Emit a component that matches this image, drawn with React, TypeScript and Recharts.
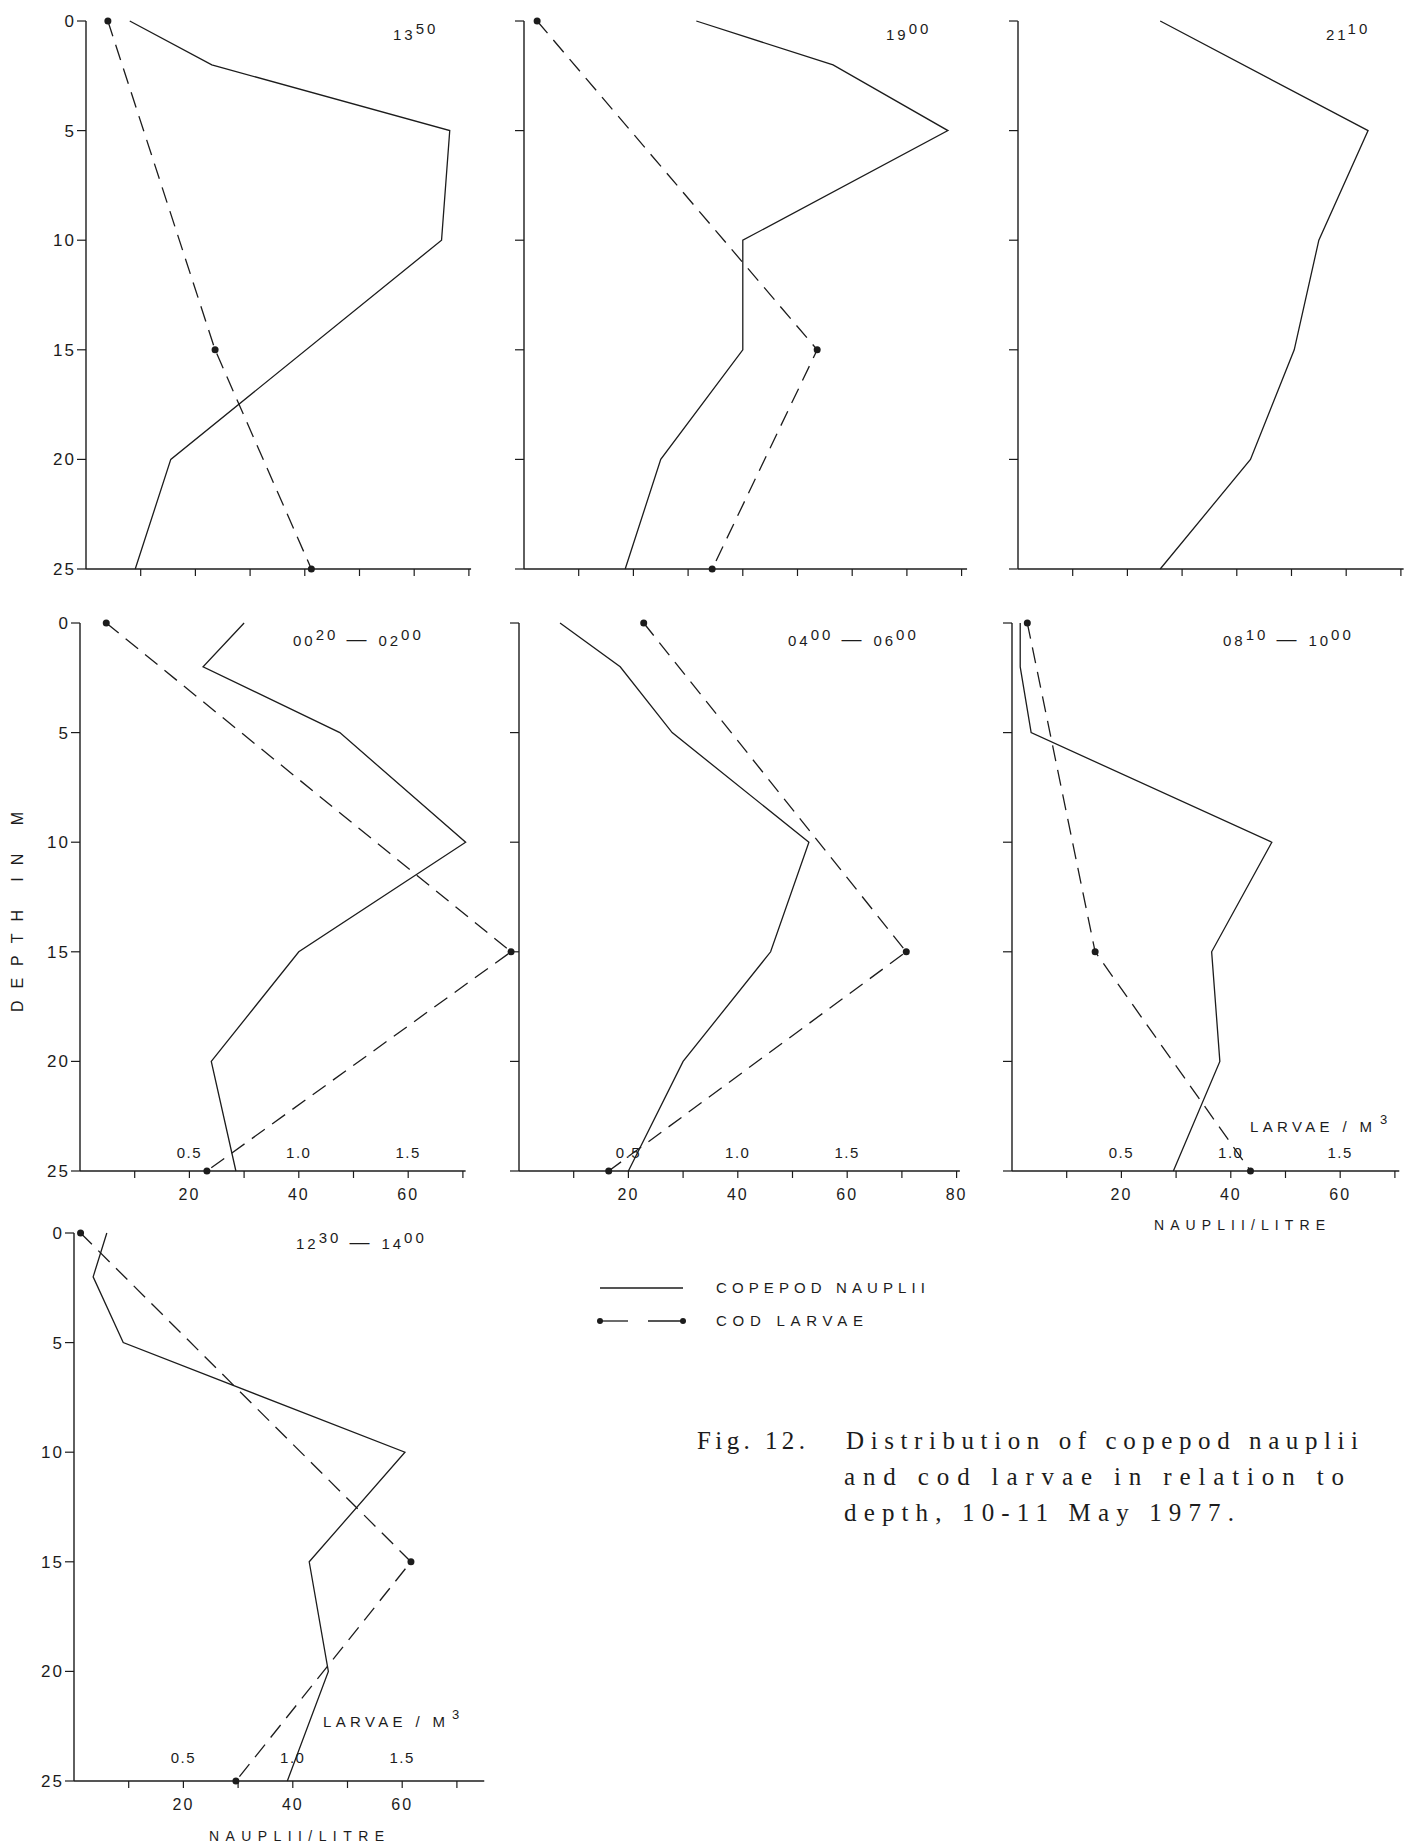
import React from 'react';
import { LineChart, Line, XAxis, YAxis, ReferenceLine } from 'recharts';

// sampling depths (m)
const depths = [0, 2, 5, 10, 15, 20, 25];

// copepod nauplii per litre, one list per haul
const nauplii1350 = [8, 23, 66.5, 65, null, 15.5, 9];
const nauplii1900 = [31.5, 56.5, 77.5, 40, 40, 25, 18.5];
const nauplii2110 = [26, null, 64, 55, 50.5, 42.5, 26];
const nauplii0020 = [30, 22.5, 47.5, 70.5, 40, 24, 28.5];
const nauplii0400 = [7.5, 18.5, 28, 53, 46, 30, 20];
const nauplii0810 = [1.5, 1.5, 3.5, 47.5, 36.5, 38, 29.5];
const nauplii1230 = [6, 3.5, 9, 60.5, 43, 46.5, 39];

// cod larvae per m3 (only sampled at 0, 15 and 25 m)
const larvae1350 = [0.1, null, null, null, 0.59, null, 1.03];
const larvae1900 = [0.06, null, null, null, 1.34, null, 0.86];
const larvae0020 = [0.12, null, null, null, 1.97, null, 0.58];
const larvae0400 = [0.57, null, null, null, 1.77, null, 0.41];
const larvae0810 = [0.07, null, null, null, 0.38, null, 1.09];
const larvae1230 = [0.03, null, null, null, 1.54, null, 0.74];

// time labels: base, superscript[, base, superscript]
const title1350 = ['13', '50'];
const title1900 = ['19', '00'];
const title2110 = ['21', '10'];
const title0020 = ['00', '20', '02', '00'];
const title0400 = ['04', '00', '06', '00'];
const title0810 = ['08', '10', '10', '00'];
const title1230 = ['12', '30', '14', '00'];

const depthTicks = [0, 5, 10, 15, 20, 25];
const ticks70 = [10, 20, 30, 40, 50, 60, 70];
const ticks80 = [10, 20, 30, 40, 50, 60, 70, 80];

const INK = '#1c1c1c';
const SANS = "'Liberation Sans', Arial, sans-serif";
const SERIF = "'Liberation Serif', 'DejaVu Serif', serif";

const PX = 5.47; // px per nauplii/litre
const PLOT_H = 548;
const YW = 50;
const MT = 10;
const XH = 45;
const MR = 16;

const panels = [
  { key: 'a', nauplii: nauplii1350, larvae: larvae1350, title: title1350, left: 86, top: 21, xMax: 70.4, axisEnd: 70.4, ticks: ticks70, depthLabels: true, xLabels: false, gap: 18, tx: 393, ty: 40 },
  { key: 'b', nauplii: nauplii1900, larvae: larvae1900, title: title1900, left: 524, top: 21, xMax: 81, axisEnd: 81, ticks: ticks80, depthLabels: false, xLabels: false, gap: 18, tx: 886, ty: 40 },
  { key: 'c', nauplii: nauplii2110, larvae: null, title: title2110, left: 1018, top: 21, xMax: 70.5, axisEnd: 70.5, ticks: ticks70, depthLabels: false, xLabels: false, gap: 18, tx: 1326, ty: 40 },
  { key: 'd', nauplii: nauplii0020, larvae: larvae0020, title: title0020, left: 80, top: 623, xMax: 80, axisEnd: 70.5, ticks: ticks70, depthLabels: true, xLabels: true, gap: 18, tx: 293, ty: 646 },
  { key: 'e', nauplii: nauplii0400, larvae: larvae0400, title: title0400, left: 519, top: 623, xMax: 80.6, axisEnd: 80.6, ticks: ticks80, depthLabels: false, xLabels: true, gap: 18, tx: 788, ty: 646 },
  { key: 'f', nauplii: nauplii0810, larvae: larvae0810, title: title0810, left: 1012, top: 623, xMax: 70.8, axisEnd: 70.8, ticks: ticks70, depthLabels: false, xLabels: true, gap: 18, tx: 1223, ty: 646 },
  { key: 'g', nauplii: nauplii1230, larvae: larvae1230, title: title1230, left: 74, top: 1233, xMax: 75, axisEnd: 75, ticks: ticks70, depthLabels: true, xLabels: true, gap: 23, tx: 296, ty: 1249 },
];

function BottomTick(props: any) {
  const { x, y, payload, show, gap } = props;
  const v = payload.value;
  if (!show || v % 20 !== 0) return <g />;
  const larvae = v / 40;
  return (
    <g fill={INK} fontFamily={SANS}>
      <text x={x} y={y + 22} textAnchor="middle" fontSize={16} letterSpacing={2}>{v}</text>
      {larvae <= 1.5 && (
        <text x={x} y={y - 2 - gap} textAnchor="middle" fontSize={15} letterSpacing={1.5}>{larvae.toFixed(1)}</text>
      )}
    </g>
  );
}

function DepthTick(props: any) {
  const { x, y, payload, show } = props;
  if (!show) return <g />;
  return (
    <text x={x} y={y + 6} textAnchor="end" fontSize={17} letterSpacing={2} fill={INK} fontFamily={SANS}>
      {payload.value}
    </text>
  );
}

function Panel({ p }: { p: any }) {
  const rows = depths.map((d, i) => ({
    depth: d,
    nauplii: p.nauplii[i],
    larvae: p.larvae ? p.larvae[i] : null,
  }));
  const width = YW + p.xMax * PX + MR;
  const height = MT + PLOT_H + XH;
  return (
    <div style={{ position: 'absolute', left: p.left - YW, top: p.top - MT }}>
      <LineChart layout="vertical" width={width} height={height} data={rows} margin={{ top: MT, right: MR, bottom: 0, left: 0 }}>
        <XAxis xAxisId="l" type="number" domain={[0, p.xMax / 40]} hide height={0} />
        <XAxis
          xAxisId="n"
          type="number"
          domain={[0, p.xMax]}
          ticks={p.ticks}
          interval={0}
          axisLine={false}
          tickLine={{ stroke: INK, strokeWidth: 1.2 }}
          tickSize={7}
          tickMargin={0}
          height={XH}
          tick={(t: any) => <BottomTick {...t} show={p.xLabels} gap={p.gap} />}
        />
        <YAxis
          type="number"
          dataKey="depth"
          domain={[0, 25]}
          ticks={depthTicks}
          interval={0}
          width={YW}
          tickSize={9}
          tickMargin={1}
          axisLine={{ stroke: INK, strokeWidth: 1.4 }}
          tickLine={{ stroke: INK, strokeWidth: 1.2 }}
          tick={(t: any) => <DepthTick {...t} show={p.depthLabels} />}
        />
        <ReferenceLine
          xAxisId="n"
          segment={[{ x: 0, y: 25 }, { x: p.axisEnd, y: 25 }]}
          stroke={INK}
          strokeWidth={1.4}
        />
        <Line
          xAxisId="n"
          dataKey="nauplii"
          type="linear"
          stroke={INK}
          strokeWidth={1.3}
          dot={false}
          activeDot={false}
          connectNulls
          isAnimationActive={false}
        />
        {p.larvae && (
          <Line
            xAxisId="l"
            dataKey="larvae"
            type="linear"
            stroke={INK}
            strokeWidth={1.3}
            strokeDasharray="16 9"
            dot={{ r: 3.5, fill: INK, stroke: 'none' }}
            activeDot={false}
            connectNulls
            isAnimationActive={false}
          />
        )}
      </LineChart>
    </div>
  );
}

function Title({ x, y, parts }: { x: number; y: number; parts: string[] }) {
  return (
    <text x={x} y={y} fontSize={15} letterSpacing={3} fill={INK} fontFamily={SANS}>
      <tspan>{parts[0]}</tspan>
      <tspan dy={-6}>{parts[1]}</tspan>
      {parts.length > 2 && (
        <>
          <tspan dy={6} dx={8} fontSize={20} letterSpacing={0}>—</tspan>
          <tspan dx={12}>{parts[2]}</tspan>
          <tspan dy={-6}>{parts[3]}</tspan>
        </>
      )}
    </text>
  );
}

function Annotations() {
  return (
    <svg width={1405} height={1847} style={{ position: 'absolute', left: 0, top: 0, pointerEvents: 'none' }}>
      {panels.map((p) => (
        <Title key={p.key} x={p.tx} y={p.ty} parts={p.title} />
      ))}
      <text
        x={17}
        y={912}
        transform="rotate(-90 17 912)"
        dy={6}
        textAnchor="middle"
        fontSize={16}
        textLength={200}
        lengthAdjust="spacing"
        fill={INK}
        fontFamily={SANS}
      >
        DEPTH IN M
      </text>

      {/* larvae / nauplii axis names */}
      <text x={1250} y={1132} fontSize={15} textLength={122} lengthAdjust="spacing" fill={INK} fontFamily={SANS}>LARVAE / M</text>
      <text x={1380} y={1124} fontSize={13} fill={INK} fontFamily={SANS}>3</text>
      <text x={1154} y={1230} fontSize={14} textLength={171} lengthAdjust="spacing" fill={INK} fontFamily={SANS}>NAUPLII/LITRE</text>

      <text x={323} y={1727} fontSize={15} textLength={122} lengthAdjust="spacing" fill={INK} fontFamily={SANS}>LARVAE / M</text>
      <text x={452} y={1719} fontSize={13} fill={INK} fontFamily={SANS}>3</text>
      <text x={209} y={1841} fontSize={14} textLength={175} lengthAdjust="spacing" fill={INK} fontFamily={SANS}>NAUPLII/LITRE</text>

      {/* legend */}
      <line x1={600} x2={683} y1={1288} y2={1288} stroke={INK} strokeWidth={1.3} />
      <text x={716} y={1293} fontSize={15} textLength={209} lengthAdjust="spacing" fill={INK} fontFamily={SANS}>COPEPOD NAUPLII</text>
      <line x1={600} x2={628} y1={1321} y2={1321} stroke={INK} strokeWidth={1.3} />
      <line x1={648} x2={683} y1={1321} y2={1321} stroke={INK} strokeWidth={1.3} />
      <circle cx={600} cy={1321} r={3} fill={INK} />
      <circle cx={683} cy={1321} r={3} fill={INK} />
      <text x={716} y={1326} fontSize={15} textLength={147} lengthAdjust="spacing" fill={INK} fontFamily={SANS}>COD LARVAE</text>

      {/* caption */}
      <g fontFamily={SERIF} fontSize={25} fill={INK}>
        <text x={697} y={1449} textLength={108} lengthAdjust="spacing">Fig. 12.</text>
        <text x={846} y={1449} textLength={512} lengthAdjust="spacing">Distribution of copepod nauplii</text>
        <text x={844} y={1485} textLength={500} lengthAdjust="spacing">and cod larvae in relation to</text>
        <text x={844} y={1521} textLength={390} lengthAdjust="spacing">depth, 10-11 May 1977.</text>
      </g>
    </svg>
  );
}

export default function App() {
  return (
    <div style={{ position: 'absolute', left: 0, top: 0, width: 1405, height: 1847, background: '#fff' }}>
      {panels.map((p) => (
        <Panel key={p.key} p={p} />
      ))}
      <Annotations />
    </div>
  );
}
